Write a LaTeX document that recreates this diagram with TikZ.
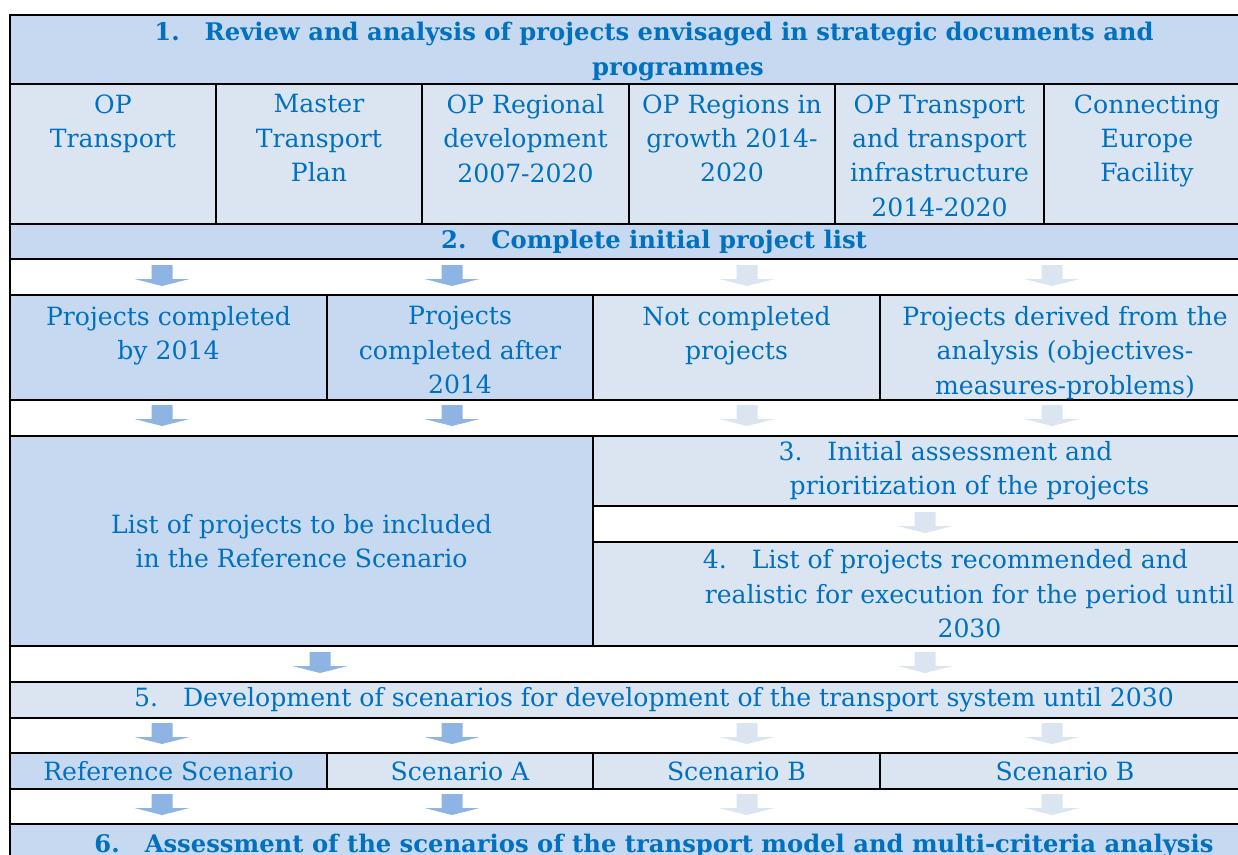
\documentclass[tikz,border=0pt]{standalone}
\usepackage{fontspec}
\setmainfont{DejaVu Serif}
\usetikzlibrary{positioning}
\definecolor{txtblue}{HTML}{0070C0}
\definecolor{darkcell}{HTML}{C6D9F1}
\definecolor{lightcell}{HTML}{DBE5F1}
\definecolor{darkarrow}{HTML}{8EB4E3}
\definecolor{lightarrow}{HTML}{DBE5F1}
\tikzset{
    cell/.style={draw, line width=1pt, anchor=north west, inner sep=0pt, outer sep=0pt},
    dark/.style={fill=darkcell},
    light/.style={fill=lightcell},
    gap/.style={fill=white},
    txt/.style={text=txtblue, align=center, inner sep=0pt, font=\fontsize{14.3}{19.6}\selectfont},
    head/.style={txt, font=\fontsize{13.8}{19.6}\selectfont\bfseries},
    pics/blockarrow/.style={code={
        \fill[#1] (-0.21,0) -- (0.21,0) -- (0.21,-0.28) -- (0.55,-0.28) -- (0,-0.42) -- (-0.55,-0.28) -- (-0.21,-0.28) -- cycle;}}
}
\begin{document}
\begin{tikzpicture}
    \clip (0,0) rectangle (24.76,-17.08);
    \fill[white] (0,0) rectangle (24.76,-17.08);

    % 1. review of documents
    \node[cell, dark, minimum width=24.8cm, minimum height=1.38cm] (h1) at (0.2,-0.3) {};
    \node[cell, light, minimum width=4.12cm, minimum height=2.8cm] (op1) at (0.2,-1.68) {};
    \node[cell, light, minimum width=4.12cm, minimum height=2.8cm] (op2) at (4.32,-1.68) {};
    \node[cell, light, minimum width=4.14cm, minimum height=2.8cm] (op3) at (8.44,-1.68) {};
    \node[cell, light, minimum width=4.12cm, minimum height=2.8cm] (op4) at (12.58,-1.68) {};
    \node[cell, light, minimum width=4.18cm, minimum height=2.8cm] (op5) at (16.70,-1.68) {};
    \node[cell, light, minimum width=4.12cm, minimum height=2.8cm] (op6) at (20.88,-1.68) {};

    % 2. initial list
    \node[cell, dark, minimum width=24.8cm, minimum height=0.7cm] (h2) at (0.2,-4.48) {};
    \node[cell, gap, minimum width=24.8cm, minimum height=0.72cm] (gap1) at (0.2,-5.18) {};
    \node[cell, dark, minimum width=6.34cm, minimum height=2.1cm] (pr1) at (0.2,-5.9) {};
    \node[cell, dark, minimum width=5.32cm, minimum height=2.1cm] (pr2) at (6.54,-5.9) {};
    \node[cell, light, minimum width=5.74cm, minimum height=2.1cm] (pr3) at (11.86,-5.9) {};
    \node[cell, light, minimum width=7.4cm, minimum height=2.1cm] (pr4) at (17.6,-5.9) {};
    \node[cell, gap, minimum width=24.8cm, minimum height=0.72cm] (gap2) at (0.2,-8.0) {};

    % 3./4. assessment
    \node[cell, dark, minimum width=11.66cm, minimum height=4.2cm] (ref) at (0.2,-8.72) {};
    \node[cell, light, minimum width=13.14cm, minimum height=1.4cm] (st3) at (11.86,-8.72) {};
    \node[cell, gap, minimum width=13.14cm, minimum height=0.72cm] (gap3) at (11.86,-10.12) {};
    \node[cell, light, minimum width=13.14cm, minimum height=2.08cm] (st4) at (11.86,-10.84) {};
    \node[cell, gap, minimum width=24.8cm, minimum height=0.72cm] (gap4) at (0.2,-12.92) {};

    % 5. scenarios
    \node[cell, light, minimum width=24.8cm, minimum height=0.72cm] (h5) at (0.2,-13.64) {};
    \node[cell, gap, minimum width=24.8cm, minimum height=0.7cm] (gap5) at (0.2,-14.36) {};
    \node[cell, dark, minimum width=6.34cm, minimum height=0.72cm] (sc1) at (0.2,-15.06) {};
    \node[cell, light, minimum width=5.32cm, minimum height=0.72cm] (sc2) at (6.54,-15.06) {};
    \node[cell, light, minimum width=5.74cm, minimum height=0.72cm] (sc3) at (11.86,-15.06) {};
    \node[cell, light, minimum width=7.4cm, minimum height=0.72cm] (sc4) at (17.6,-15.06) {};
    \node[cell, gap, minimum width=24.8cm, minimum height=0.7cm] (gap6) at (0.2,-15.78) {};
    \node[cell, dark, minimum width=24.8cm, minimum height=0.9cm] (h6) at (0.2,-16.48) {};

    % texts
    \node[head, below=0.14cm of h1.north, xshift=0.96cm] (h1t) {\hspace*{-0.96cm}1.\hspace{0.5cm}Review and analysis of projects envisaged in strategic documents and\\programmes};
    \node[txt, below=0.2cm of op1.north] (op1t) {OP\\Transport};
    \node[txt, below=0.2cm of op2.north] (op2t) {Master\\Transport\\Plan};
    \node[txt, below=0.2cm of op3.north] (op3t) {OP Regional\\development\\2007-2020};
    \node[txt, below=0.2cm of op4.north] (op4t) {OP Regions in\\growth 2014-\\2020};
    \node[txt, below=0.2cm of op5.north] (op5t) {OP Transport\\and transport\\infrastructure\\2014-2020};
    \node[txt, below=0.2cm of op6.north] (op6t) {Connecting\\Europe\\Facility};
    \node[head, xshift=0.48cm] (h2t) at (h2.center) {2.\hspace{0.5cm}Complete initial project list};
    \node[txt, below=0.22cm of pr1.north] (pr1t) {Projects completed\\by 2014};
    \node[txt, below=0.22cm of pr2.north] (pr2t) {Projects\\completed after\\2014};
    \node[txt, below=0.22cm of pr3.north] (pr3t) {Not completed\\projects};
    \node[txt, below=0.22cm of pr4.north] (pr4t) {Projects derived from the\\analysis (objectives-\\measures-problems)};
    \node[txt] (reft) at (ref.center) {List of projects to be included\\in the Reference Scenario};
    \node[txt, xshift=0.96cm] (st3t) at (st3.center) {\hspace*{-0.96cm}3.\hspace{0.5cm}Initial assessment and\\prioritization of the projects};
    \node[txt, xshift=0.96cm] (st4t) at (st4.center) {\hspace*{-0.96cm}4.\hspace{0.5cm}List of projects recommended and\\realistic for execution for the period until\\2030};
    \node[txt, xshift=0.48cm] (h5t) at (h5.center) {5.\hspace{0.5cm}Development of scenarios for development of the transport system until 2030};
    \node[txt] (sc1t) at (sc1.center) {Reference Scenario};
    \node[txt] (sc2t) at (sc2.center) {Scenario A};
    \node[txt] (sc3t) at (sc3.center) {Scenario B};
    \node[txt] (sc4t) at (sc4.center) {Scenario B};
    \node[head, below=0.2cm of h6.north, xshift=0.48cm] (h6t) {6.\hspace{0.5cm}Assessment of the scenarios of the transport model and multi-criteria analysis};

    % arrows
    \pic at (3.24,-5.30) {blockarrow=darkarrow};
    \pic at (9.04,-5.30) {blockarrow=darkarrow};
    \pic at (14.94,-5.30) {blockarrow=lightarrow};
    \pic at (21.04,-5.30) {blockarrow=lightarrow};
    \pic at (3.24,-8.10) {blockarrow=darkarrow};
    \pic at (9.04,-8.10) {blockarrow=darkarrow};
    \pic at (14.94,-8.10) {blockarrow=lightarrow};
    \pic at (21.04,-8.10) {blockarrow=lightarrow};
    \pic at (18.50,-10.24) {blockarrow=lightarrow};
    \pic at (6.40,-13.04) {blockarrow=darkarrow};
    \pic at (18.50,-13.04) {blockarrow=lightarrow};
    \pic at (3.24,-14.46) {blockarrow=darkarrow};
    \pic at (9.04,-14.46) {blockarrow=darkarrow};
    \pic at (14.94,-14.46) {blockarrow=lightarrow};
    \pic at (21.04,-14.46) {blockarrow=lightarrow};
    \pic at (3.24,-15.88) {blockarrow=darkarrow};
    \pic at (9.04,-15.88) {blockarrow=darkarrow};
    \pic at (14.94,-15.88) {blockarrow=lightarrow};
    \pic at (21.04,-15.88) {blockarrow=lightarrow};
\end{tikzpicture}
\end{document}
